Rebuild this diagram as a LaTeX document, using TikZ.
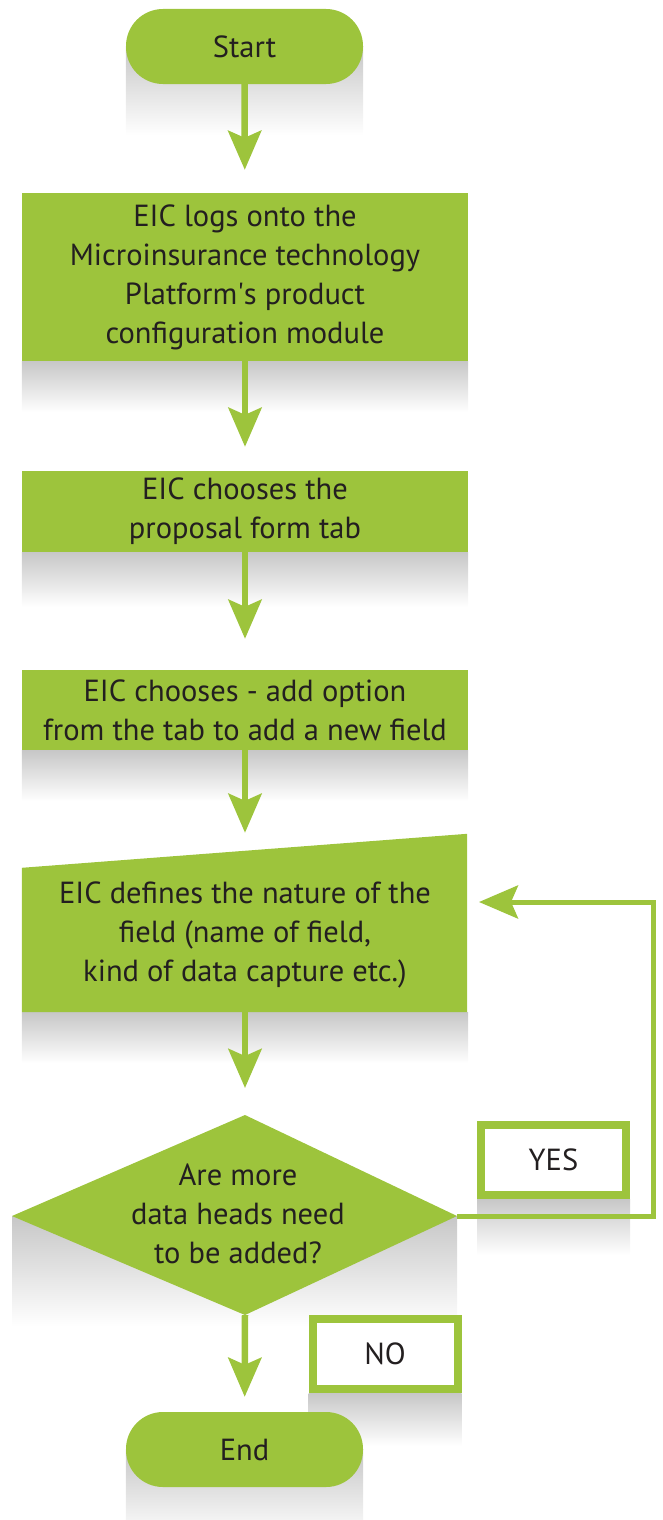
\documentclass[tikz,border=0pt]{standalone}
\usepackage{fontspec}
\setmainfont{PT Sans}
\usepackage{xcolor}
\usetikzlibrary{arrows.meta, positioning, calc, backgrounds}
\definecolor{eicgreen}{HTML}{9DC43C}
\definecolor{eicink}{HTML}{231F20}

\begin{document}
\begin{tikzpicture}[x=1pt, y=-1pt,
  txt/.style={text=eicink, font=\fontsize{30.5}{39}\selectfont, align=center, inner sep=0pt},
  stepbox/.style={txt, fill=eicgreen, minimum width=446pt},
  term/.style={txt, fill=eicgreen, rounded corners=37pt, minimum width=237pt, minimum height=75pt},
  answer/.style={txt, draw=eicgreen, line width=8pt, fill=white, minimum width=145pt, minimum height=70pt},
  flow/.style={draw=eicgreen, line width=6.5pt, -{Stealth[length=39pt, width=33pt, inset=7pt]}},
  backflow/.style={flow, line width=5pt},
  glow/.style={top color=black!22, bottom color=white, draw=none}]
\useasboundingbox (0,0) rectangle (663,1520);

% main column
\node[term] (start) at (244.5,46.5) {Start};
\node[stepbox, minimum height=168pt] (logon) at (245,277)
  {EIC logs onto the\\Microinsurance technology\\Platform\textquotesingle s product\\configuration module};
\node[stepbox, minimum height=81pt] (tab) at (245,511.5)
  {EIC chooses the\\proposal form tab};
\node[stepbox, minimum height=80pt] (addopt) at (245,710)
  {EIC chooses - add option\\from the tab to add a new field};
\node[stepbox, fill=none, minimum height=154pt] (field) at (245,935)
  {EIC defines the nature of the\\field (name of field,\\kind of data capture etc.)};

% decision
\coordinate (mtop)   at (245,1115);
\coordinate (mleft)  at (12,1216);
\coordinate (mright) at (457,1216);
\coordinate (mbot)   at (245,1315);
\node[txt] (more) at (238,1214) {Are more\\data heads need\\to be added?};

\node[answer] (yes) at (553.5,1160) {YES};
\node[answer] (no) at (385,1354) {NO};
\node[term] (end) at (244.5,1449.5) {End};
\coordinate (loopin) at (479,902);

\begin{scope}[on background layer]
  \shade[glow] (start.west) rectangle ($(start.south east)+(0,51)$);
  \shade[glow] (logon.south west) rectangle ($(logon.south east)+(0,51)$);
  \shade[glow] (tab.south west) rectangle ($(tab.south east)+(0,55)$);
  \shade[glow] (addopt.south west) rectangle ($(addopt.south east)+(0,51)$);
  \shade[glow] (field.south west) rectangle ($(field.south east)+(0,51)$);
  \shade[glow] (mleft) rectangle ($(mright)+(0,110)$);
  \shade[glow] (yes.south west) rectangle ($(yes.south east)+(0,56)$);
  \shade[glow] (no.south west) rectangle ($(no.south east)+(0,53)$);
  \shade[glow] (end.west) rectangle ($(end.south east)+(0,51)$);
  \fill[eicgreen] ($(field.north west)+(0,10)$) -- ($(field.north east)+(-1,-24)$)
    -- ($(field.south east)+(-1,0)$) -- (field.south west) -- cycle;
  \fill[eicgreen] (mtop) -- (mright) -- (mbot) -- (mleft) -- cycle;
\end{scope}

% connectors
\draw[flow, shorten >=23pt] (start) -- (logon);
\draw[flow, shorten >=24pt] (logon) -- (tab);
\draw[flow, shorten >=31pt] (tab) -- (addopt);
\draw[flow, shorten >=25pt] (addopt) -- (field);
\draw[flow, shorten >=27pt] (field.south) -- (mtop);
\draw[flow, shorten >=15pt] (mbot) -- (end);
\draw[backflow, line join=miter] (mright) -- ++(196,0) |- (loopin);
\end{tikzpicture}
\end{document}
